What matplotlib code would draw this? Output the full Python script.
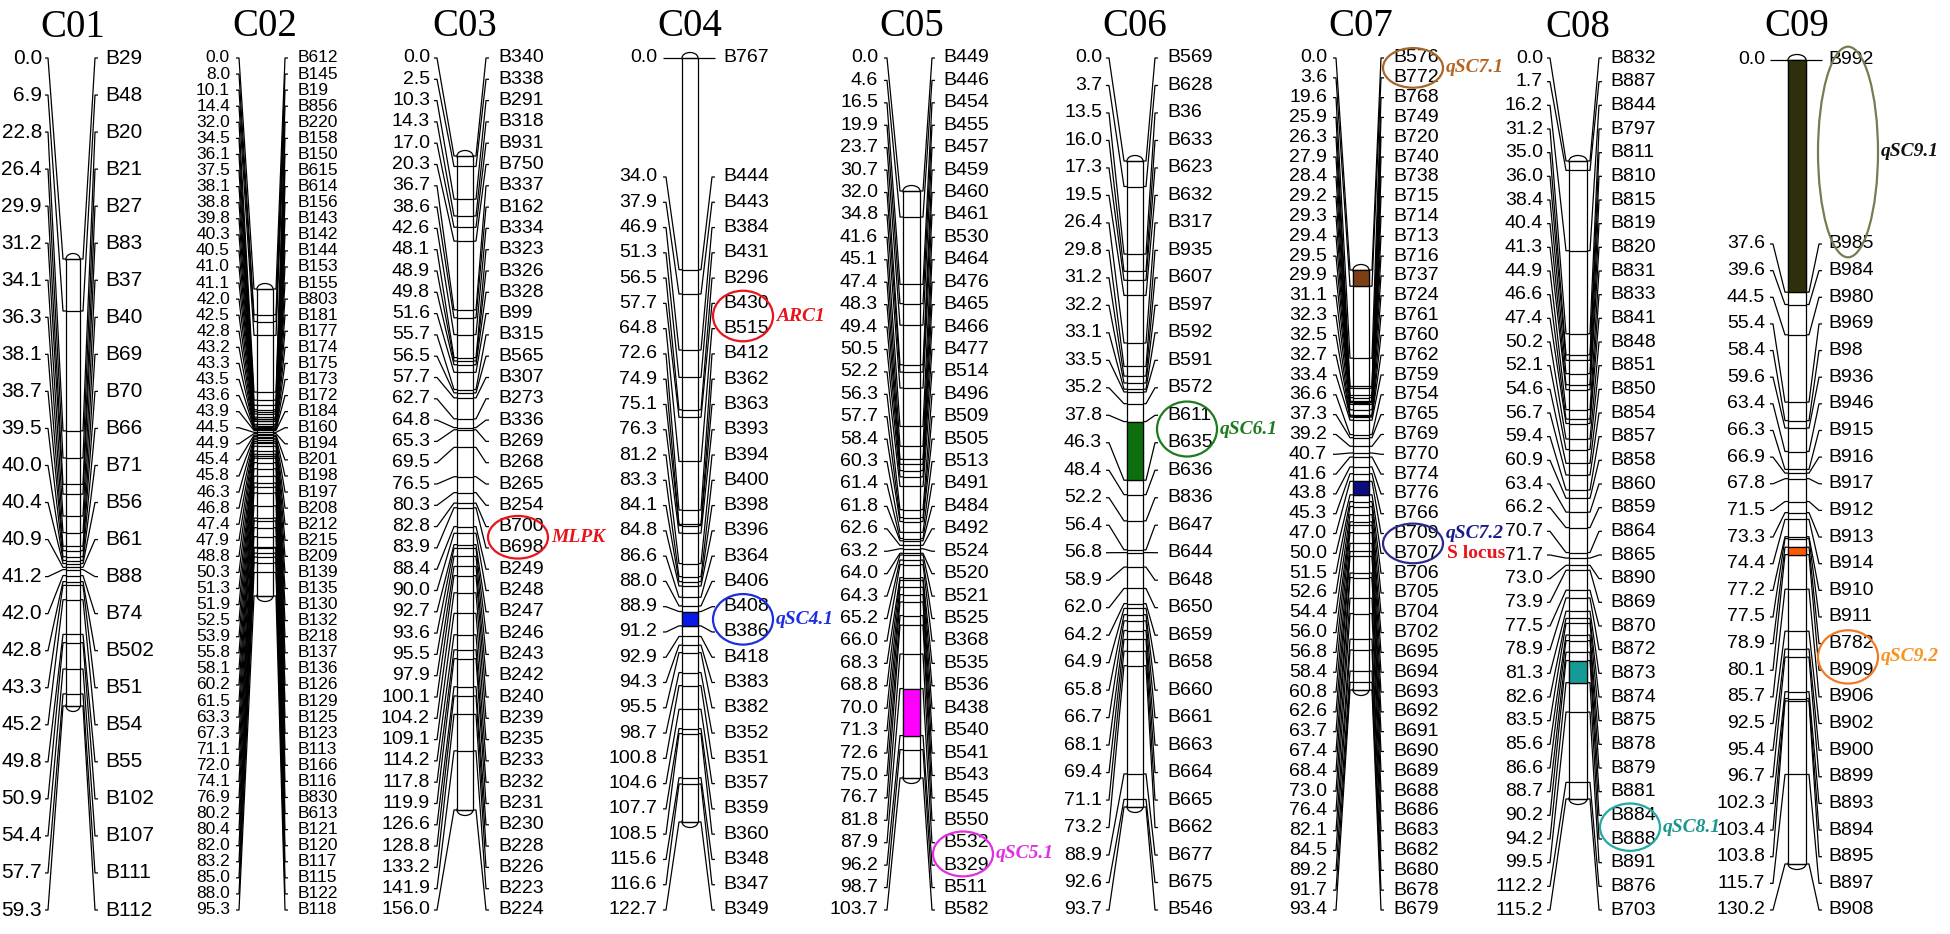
"""Linkage map of the nine C-genome chromosomes with QTL and gene positions."""

import numpy as np
from matplotlib import pyplot as plt
from matplotlib import font_manager
from matplotlib.patches import Ellipse, Rectangle

W, H = 1950, 934

C01_POS = [0.0, 6.9, 22.8, 26.4, 29.9, 31.2, 34.1, 36.3, 38.1, 38.7, 39.5, 40.0,
           40.4, 40.9, 41.2, 42.0, 42.8, 43.3, 45.2, 49.8, 50.9, 54.4, 57.7, 59.3]
C01_MARKERS = ["B29", "B48", "B20", "B21", "B27", "B83", "B37", "B40", "B69", "B70",
               "B66", "B71", "B56", "B61", "B88", "B74", "B502", "B51", "B54", "B55",
               "B102", "B107", "B111", "B112"]

C02_POS = [0.0, 8.0, 10.1, 14.4, 32.0, 34.5, 36.1, 37.5, 38.1, 38.8, 39.8, 40.3,
           40.5, 41.0, 41.1, 42.0, 42.5, 42.8, 43.2, 43.3, 43.5, 43.6, 43.9, 44.5,
           44.9, 45.4, 45.8, 46.3, 46.8, 47.4, 47.9, 48.8, 50.3, 51.3, 51.9, 52.5,
           53.9, 55.8, 58.1, 60.2, 61.5, 63.3, 67.3, 71.1, 72.0, 74.1, 76.9, 80.2,
           80.4, 82.0, 83.2, 85.0, 88.0, 95.3]
C02_MARKERS = ["B612", "B145", "B19", "B856", "B220", "B158", "B150", "B615", "B614",
               "B156", "B143", "B142", "B144", "B153", "B155", "B803", "B181", "B177",
               "B174", "B175", "B173", "B172", "B184", "B160", "B194", "B201", "B198",
               "B197", "B208", "B212", "B215", "B209", "B139", "B135", "B130", "B132",
               "B218", "B137", "B136", "B126", "B129", "B125", "B123", "B113", "B166",
               "B116", "B830", "B613", "B121", "B120", "B117", "B115", "B122", "B118"]

C03_POS = [0.0, 2.5, 10.3, 14.3, 17.0, 20.3, 36.7, 38.6, 42.6, 48.1, 48.9, 49.8,
           51.6, 55.7, 56.5, 57.7, 62.7, 64.8, 65.3, 69.5, 76.5, 80.3, 82.8, 83.9,
           88.4, 90.0, 92.7, 93.6, 95.5, 97.9, 100.1, 104.2, 109.1, 114.2, 117.8,
           119.9, 126.6, 128.8, 133.2, 141.9, 156.0]
C03_MARKERS = ["B340", "B338", "B291", "B318", "B931", "B750", "B337", "B162", "B334",
               "B323", "B326", "B328", "B99", "B315", "B565", "B307", "B273", "B336",
               "B269", "B268", "B265", "B254", "B700", "B698", "B249", "B248", "B247",
               "B246", "B243", "B242", "B240", "B239", "B235", "B233", "B232", "B231",
               "B230", "B228", "B226", "B223", "B224"]

C04_POS = [0.0, 34.0, 37.9, 46.9, 51.3, 56.5, 57.7, 64.8, 72.6, 74.9, 75.1, 76.3,
           81.2, 83.3, 84.1, 84.8, 86.6, 88.0, 88.9, 91.2, 92.9, 94.3, 95.5, 98.7,
           100.8, 104.6, 107.7, 108.5, 115.6, 116.6, 122.7]
C04_MARKERS = ["B767", "B444", "B443", "B384", "B431", "B296", "B430", "B515", "B412",
               "B362", "B363", "B393", "B394", "B400", "B398", "B396", "B364", "B406",
               "B408", "B386", "B418", "B383", "B382", "B352", "B351", "B357", "B359",
               "B360", "B348", "B347", "B349"]

C05_POS = [0.0, 4.6, 16.5, 19.9, 23.7, 30.7, 32.0, 34.8, 41.6, 45.1, 47.4, 48.3,
           49.4, 50.5, 52.2, 56.3, 57.7, 58.4, 60.3, 61.4, 61.8, 62.6, 63.2, 64.0,
           64.3, 65.2, 66.0, 68.3, 68.8, 70.0, 71.3, 72.6, 75.0, 76.7, 81.8, 87.9,
           96.2, 98.7, 103.7]
C05_MARKERS = ["B449", "B446", "B454", "B455", "B457", "B459", "B460", "B461", "B530",
               "B464", "B476", "B465", "B466", "B477", "B514", "B496", "B509", "B505",
               "B513", "B491", "B484", "B492", "B524", "B520", "B521", "B525", "B368",
               "B535", "B536", "B438", "B540", "B541", "B543", "B545", "B550", "B532",
               "B329", "B511", "B582"]

C06_POS = [0.0, 3.7, 13.5, 16.0, 17.3, 19.5, 26.4, 29.8, 31.2, 32.2, 33.1, 33.5,
           35.2, 37.8, 46.3, 48.4, 52.2, 56.4, 56.8, 58.9, 62.0, 64.2, 64.9, 65.8,
           66.7, 68.1, 69.4, 71.1, 73.2, 88.9, 92.6, 93.7]
C06_MARKERS = ["B569", "B628", "B36", "B633", "B623", "B632", "B317", "B935", "B607",
               "B597", "B592", "B591", "B572", "B611", "B635", "B636", "B836", "B647",
               "B644", "B648", "B650", "B659", "B658", "B660", "B661", "B663", "B664",
               "B665", "B662", "B677", "B675", "B546"]

C07_POS = [0.0, 3.6, 19.6, 25.9, 26.3, 27.9, 28.4, 29.2, 29.3, 29.4, 29.5, 29.9,
           31.1, 32.3, 32.5, 32.7, 33.4, 36.6, 37.3, 39.2, 40.7, 41.6, 43.8, 45.3,
           47.0, 50.0, 51.5, 52.6, 54.4, 56.0, 56.8, 58.4, 60.8, 62.6, 63.7, 67.4,
           68.4, 73.0, 76.4, 82.1, 84.5, 89.2, 91.7, 93.4]
C07_MARKERS = ["B576", "B772", "B768", "B749", "B720", "B740", "B738", "B715", "B714",
               "B713", "B716", "B737", "B724", "B761", "B760", "B762", "B759", "B754",
               "B765", "B769", "B770", "B774", "B776", "B766", "B709", "B707", "B706",
               "B705", "B704", "B702", "B695", "B694", "B693", "B692", "B691", "B690",
               "B689", "B688", "B686", "B683", "B682", "B680", "B678", "B679"]

C08_POS = [0.0, 1.7, 16.2, 31.2, 35.0, 36.0, 38.4, 40.4, 41.3, 44.9, 46.6, 47.4,
           50.2, 52.1, 54.6, 56.7, 59.4, 60.9, 63.4, 66.2, 70.7, 71.7, 73.0, 73.9,
           77.5, 78.9, 81.3, 82.6, 83.5, 85.6, 86.6, 88.7, 90.2, 94.2, 99.5, 112.2,
           115.2]
C08_MARKERS = ["B832", "B887", "B844", "B797", "B811", "B810", "B815", "B819", "B820",
               "B831", "B833", "B841", "B848", "B851", "B850", "B854", "B857", "B858",
               "B860", "B859", "B864", "B865", "B890", "B869", "B870", "B872", "B873",
               "B874", "B875", "B878", "B879", "B881", "B884", "B888", "B891", "B876",
               "B703"]

C09_POS = [0.0, 37.6, 39.6, 44.5, 55.4, 58.4, 59.6, 63.4, 66.3, 66.9, 67.8, 71.5,
           73.3, 74.4, 77.2, 77.5, 78.9, 80.1, 85.7, 92.5, 95.4, 96.7, 102.3, 103.4,
           103.8, 115.7, 130.2]
C09_MARKERS = ["B992", "B985", "B984", "B980", "B969", "B98", "B936", "B946", "B915",
               "B916", "B917", "B912", "B913", "B914", "B910", "B911", "B782", "B909",
               "B906", "B902", "B900", "B899", "B893", "B894", "B895", "B897", "B908"]

CHROMS = [
    ("C01", C01_POS, C01_MARKERS),
    ("C02", C02_POS, C02_MARKERS),
    ("C03", C03_POS, C03_MARKERS),
    ("C04", C04_POS, C04_MARKERS),
    ("C05", C05_POS, C05_MARKERS),
    ("C06", C06_POS, C06_MARKERS),
    ("C07", C07_POS, C07_MARKERS),
    ("C08", C08_POS, C08_MARKERS),
    ("C09", C09_POS, C09_MARKERS),
]

# QTL / gene annotations: label, chromosome, flanking markers, filled on the bar
QTL_LABELS = ["MLPK", "ARC1", "qSC4.1", "qSC5.1", "qSC6.1", "qSC7.1", "qSC7.2",
              "qSC8.1", "qSC9.1", "qSC9.2"]
QTL_CHROM = ["C03", "C04", "C04", "C05", "C06", "C07", "C07", "C08", "C09", "C09"]
QTL_FLANKS = [("B700", "B698"), ("B430", "B515"), ("B408", "B386"), ("B532", "B329"),
              ("B611", "B635"), ("B576", "B772"), ("B709", "B707"), ("B884", "B888"),
              ("B992", "B985"), ("B782", "B909")]
QTL_FILLED = [False, False, True, True, True, True, True, True, True, True]

# colours: bar fill, ellipse outline, label text
QTL_STYLE = {
    "MLPK": (None, "#e8141c", "#e8141c"),
    "ARC1": (None, "#e8141c", "#e8141c"),
    "qSC4.1": ("#0a1ae6", "#1c2ee0", "#1c2ee0"),
    "qSC5.1": ("#ff00ff", "#e22ee2", "#e22ee2"),
    "qSC6.1": ("#0c6e0c", "#1d7a1d", "#1d7a1d"),
    "qSC7.1": ("#7a3f12", "#a5662c", "#b5651d"),
    "qSC7.2": ("#0c0c80", "#2a2a8c", "#1a1a8a"),
    "qSC8.1": ("#159a96", "#24aaa2", "#1a968e"),
    "qSC9.1": ("#2f2f0c", "#7a7a52", "#111111"),
    "qSC9.2": ("#ff5a00", "#f07a24", "#f7931e"),
}

# layout in figure pixels: number right edge, connector start, bar left, bar right,
# connector end, marker-name left, bar top, bar bottom, top of spaced label block
LAYOUT = {
    "C01": (42, 45, 66, 80, 98, 105, 259, 706, 58),
    "C02": (230, 236, 257, 273, 288, 298, 289, 596, 58),
    "C03": (430, 434, 457, 473, 489, 498, 156, 810, 58),
    "C04": (657, 663, 682, 698, 715, 723, 58, 822, 177),
    "C05": (878, 884, 903, 920, 935, 943, 191, 778, 58),
    "C06": (1102, 1106, 1127, 1143, 1158, 1167, 161, 807, 58),
    "C07": (1327, 1333, 1353, 1369, 1384, 1393, 270, 690, 58),
    "C08": (1543, 1547, 1569, 1587, 1602, 1610, 161, 799, 58),
    "C09": (1765, 1770, 1788, 1806, 1822, 1828, 60, 864, 244),
}
LABEL_TOP, LABEL_BOTTOM, TITLE_Y = 58, 910, 27

_names = {f.name for f in font_manager.fontManager.ttflist}
if "Liberation Sans Narrow" in _names:
    LABEL_FONT = ["Liberation Sans Narrow", "DejaVu Sans"]
    SIZES = {"C01": 18.5, "C02": 12.5}
    DEFAULT_SIZE = 16.5
    C02_FONT = ["Liberation Sans", "DejaVu Sans"]
else:
    LABEL_FONT = ["Liberation Sans", "DejaVu Sans"]
    SIZES = {"C01": 15.0, "C02": 12.5}
    DEFAULT_SIZE = 14.0
    C02_FONT = LABEL_FONT
SERIF = ["Liberation Serif", "DejaVu Serif"]
LW = 0.9

fig = plt.figure(figsize=(W / 100, H / 100), dpi=100)
fig.patch.set_facecolor("white")

label_rows = {}
for name, pos, markers in CHROMS:
    num_x, c0, b0, b1, c1, name_x, top, bot, block_top = LAYOUT[name]
    pos = np.asarray(pos, dtype=float)
    length = pos[-1]
    s = (bot - top) / length  # pixels per cM

    ax = fig.add_axes([0, 0, 1, 1])
    ax.set_xlim(0, W)
    ax.set_ylim((H - top) / s, -top / s)
    ax.axis("off")

    def px(p, top=top, s=s):
        return (p - top) / s

    n = len(pos)
    if block_top > LABEL_TOP + 40:
        ly = np.concatenate([[pos[0]], np.linspace(px(block_top), px(LABEL_BOTTOM), n - 1)])
    else:
        ly = np.linspace(px(LABEL_TOP), px(LABEL_BOTTOM), n)
    label_rows[name] = (ax, ly, markers, pos, px)

    bw = b1 - b0
    bc = (b0 + b1) / 2
    cap = 11 / s
    for yc in (0, length):
        ax.add_patch(Ellipse((bc, yc), bw, cap, facecolor="white", edgecolor="black",
                             lw=LW, zorder=1))
    ax.add_patch(Rectangle((b0, 0), bw, length, facecolor="white", edgecolor="black",
                           lw=LW, zorder=2))

    ax.hlines(pos, b0, b1, color="black", lw=LW, zorder=4)
    for y_lab, y_mk in zip(ly, pos):
        ax.plot([c0, c0 + 3, b0 - 3, b0], [y_lab, y_lab, y_mk, y_mk],
                color="black", lw=LW, zorder=3, solid_capstyle="butt")
        ax.plot([b1, b1 + 3, c1 - 3, c1], [y_mk, y_mk, y_lab, y_lab],
                color="black", lw=LW, zorder=3, solid_capstyle="butt")

    size = SIZES.get(name, DEFAULT_SIZE)
    font = C02_FONT if name == "C02" else LABEL_FONT
    for y_lab, p, mk in zip(ly, pos, markers):
        ax.text(num_x, y_lab, f"{p:.1f}", ha="right", va="center", fontsize=size,
                family=font, color="black")
        ax.text(name_x, y_lab, mk, ha="left", va="center", fontsize=size,
                family=font, color="black")

    ax.text(bc, px(TITLE_Y), name, ha="center", va="center", fontsize=28,
            family=SERIF, color="black")

for label, chrom, (m1, m2), filled in zip(QTL_LABELS, QTL_CHROM, QTL_FLANKS, QTL_FILLED):
    ax, ly, markers, pos, px = label_rows[chrom]
    num_x, c0, b0, b1, c1, name_x, top, bot, block_top = LAYOUT[chrom]
    fill, edge, tcol = QTL_STYLE[label]
    i, j = markers.index(m1), markers.index(m2)
    if filled:
        ax.add_patch(Rectangle((b0, pos[i]), b1 - b0, pos[j] - pos[i], facecolor=fill,
                               edgecolor="black", lw=LW, zorder=5))
    step = ly[-1] - ly[-2]
    yc = (ly[i] + ly[j]) / 2
    ex = name_x + 20
    ax.add_patch(Ellipse((ex, yc), 60, abs(ly[j] - ly[i]) + step, fill=False,
                         edgecolor=edge, lw=1.6, zorder=6, clip_on=False))
    if label == "qSC7.2":
        ax.text(ex + 33, ly[i], label, ha="left", va="center", fontsize=14,
                family=SERIF, style="italic", weight="bold", color=tcol)
        ax.text(ex + 34, ly[j], "S locus", ha="left", va="center", fontsize=14,
                family=SERIF, weight="bold", color="#e8141c")
    else:
        ax.text(ex + 33, yc, label, ha="left", va="center", fontsize=14,
                family=SERIF, style="italic", weight="bold", color=tcol)

fig.savefig("out.png", dpi=100, facecolor="white")
